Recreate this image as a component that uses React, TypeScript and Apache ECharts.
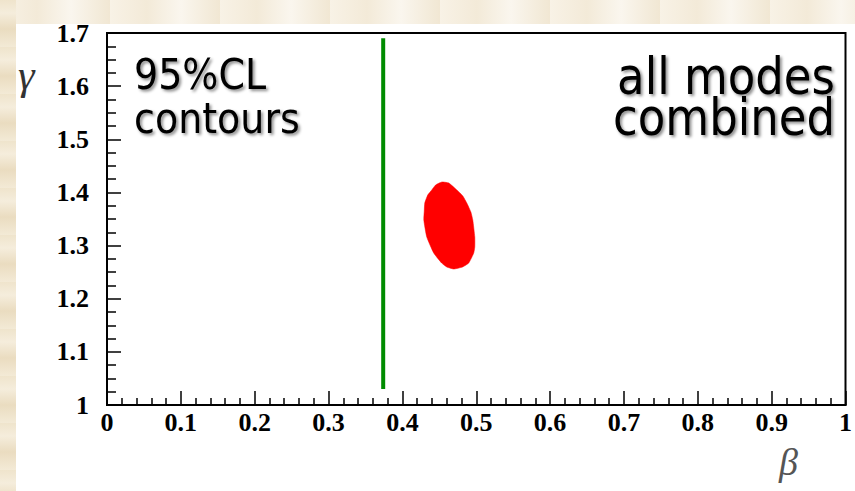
import React, { useEffect, useRef } from "react";
import * as echarts from "echarts";

// x axis (beta) tick labels
const xTicks = ["0", "0.1", "0.2", "0.3", "0.4", "0.5", "0.6", "0.7", "0.8", "0.9", "1"];
// y axis (gamma) tick labels
const yTicks = ["1", "1.1", "1.2", "1.3", "1.4", "1.5", "1.6", "1.7"];

// green vertical bound: [beta, gamma]
const greenLine: number[][] = [
  [0.374, 1.03],
  [0.374, 1.69],
];

// red 95% CL contour, [beta, gamma]
const redContour: number[][] = [
  [0.4535, 1.4196],
  [0.4628, 1.4177],
  [0.4738, 1.4045],
  [0.4818, 1.3933],
  [0.4872, 1.3801],
  [0.4927, 1.3631],
  [0.4953, 1.3481],
  [0.498, 1.3161],
  [0.498, 1.2973],
  [0.4966, 1.286],
  [0.4898, 1.2672],
  [0.4815, 1.2597],
  [0.4695, 1.2559],
  [0.4601, 1.2597],
  [0.4531, 1.2672],
  [0.4424, 1.286],
  [0.433, 1.3161],
  [0.429, 1.3481],
  [0.4296, 1.365],
  [0.4303, 1.3801],
  [0.4343, 1.3951],
  [0.4397, 1.4045],
  [0.445, 1.414],
];

const labelLeft = "95%CL\ncontours";
const labelRight = "all modes\ncombined";

export default function App() {
  const ref = useRef<HTMLDivElement>(null);
  useEffect(() => {
    if (!ref.current) return;
    const chart = echarts.init(ref.current, undefined, { renderer: "svg" });
    const tickFont = {
      fontFamily: "Liberation Serif",
      fontWeight: "bold" as const,
      fontSize: 26,
      color: "#000",
    };
    const comic = {
      fontFamily: "DejaVu Sans",
      fill: "#000",
      textShadowColor: "rgba(0,0,0,0.45)",
      textShadowBlur: 3,
      textShadowOffsetX: 2,
      textShadowOffsetY: 2,
    };
    chart.setOption({
      animation: false,
      backgroundColor: "transparent",
      grid: {
        left: 107,
        right: 2,
        top: 33,
        bottom: 86,
        show: true,
        backgroundColor: "#ffffff",
        borderColor: "#000",
        borderWidth: 2,
      },
      xAxis: {
        type: "value",
        min: 0,
        max: 1,
        interval: 0.1,
        axisLine: { show: true, onZero: false, lineStyle: { color: "#000", width: 2 } },
        axisTick: { show: true, inside: true, length: 14, lineStyle: { color: "#000", width: 1.5 } },
        minorTick: { show: true, splitNumber: 5, length: 7, lineStyle: { color: "#000", width: 1.5 } },
        splitLine: { show: false },
        axisLabel: {
          ...tickFont,
          margin: 4,
          formatter: (v: number) => xTicks[Math.round(v * 10)] ?? "",
        },
      },
      yAxis: {
        type: "value",
        min: 1,
        max: 1.7,
        interval: 0.1,
        axisLine: { show: true, onZero: false, lineStyle: { color: "#000", width: 2 } },
        axisTick: { show: true, inside: true, length: 14, lineStyle: { color: "#000", width: 1.5 } },
        minorTick: { show: true, splitNumber: 4, length: 9, lineStyle: { color: "#000", width: 1.5 } },
        splitLine: { show: false },
        axisLabel: {
          ...tickFont,
          margin: 18,
          formatter: (v: number) => yTicks[Math.round((v - 1) * 10)] ?? "",
        },
      },
      series: [
        {
          type: "custom",
          coordinateSystem: "cartesian2d",
          data: [[redContour[0][0], redContour[0][1]]],
          clip: true,
          renderItem: (_params: any, api: any) => ({
            type: "polygon",
            shape: { points: redContour.map((p) => api.coord(p)), smooth: 0.15 },
            style: { fill: "#ff0000", stroke: "#ff0000", lineWidth: 0.5 },
          }),
          silent: true,
        },
        {
          type: "line",
          data: greenLine,
          symbol: "none",
          lineStyle: { color: "#008c00", width: 4 },
          silent: true,
        },
      ],
      graphic: [
        {
          type: "text",
          x: 134,
          y: 52,
          scaleY: 1.1,
          style: {
            ...comic,
            text: labelLeft,
            fontSize: 38,
            lineHeight: 40,
            align: "left",
            verticalAlign: "top",
          },
        },
        {
          type: "text",
          x: 835,
          y: 55,
          scaleY: 1.14,
          style: {
            ...comic,
            text: labelRight,
            fontSize: 45,
            lineHeight: 36,
            align: "right",
            verticalAlign: "top",
          },
        },
        {
          type: "text",
          left: 18,
          top: 54,
          style: {
            text: "γ",
            fontFamily: "Liberation Serif",
            fontStyle: "italic",
            fontSize: 42,
            fill: "#333",
          },
        },
        {
          type: "text",
          left: 779,
          top: 443,
          style: {
            text: "β",
            fontFamily: "Liberation Serif",
            fontStyle: "italic",
            fontSize: 38,
            fill: "#555",
          },
        },
      ],
    });
    return () => chart.dispose();
  }, []);
  return (
    <div
      style={{
        position: "fixed",
        left: 0,
        top: 0,
        width: 855,
        height: 491,
        background: "#ffffff",
      }}
    >
      <div
        style={{
          position: "absolute",
          left: 0,
          top: 0,
          width: 855,
          height: 24,
          background:
            "repeating-linear-gradient(90deg, #f8f2e6 0px, #f3ead8 37px, #faf6ee 71px, #f1e7d3 110px)",
        }}
      />
      <div
        style={{
          position: "absolute",
          left: 0,
          top: 0,
          width: 16,
          height: 491,
          background:
            "repeating-linear-gradient(180deg, #efe4cc 0px, #f5eddc 13px, #eadcc0 29px, #f3ead6 47px)",
        }}
      />
      <div ref={ref} style={{ position: "absolute", left: 0, top: 0, width: 855, height: 491 }} />
    </div>
  );
}
